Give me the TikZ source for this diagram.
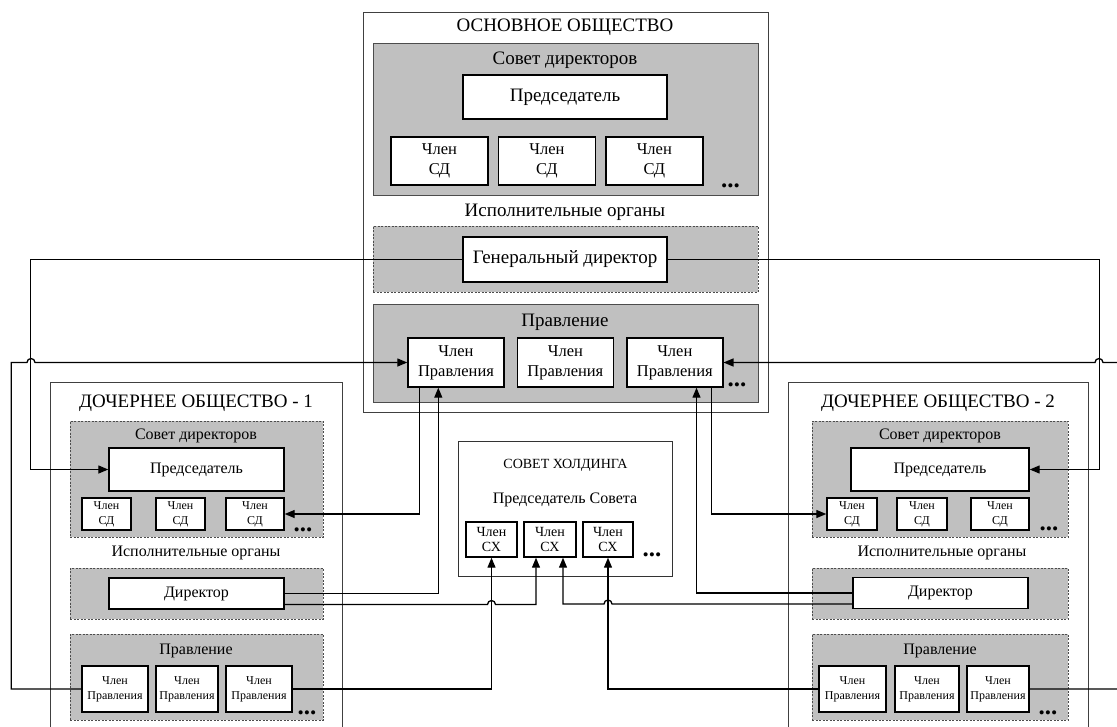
\documentclass[tikz,border=0pt]{standalone}
\usepackage{fontspec}
\setmainfont{Liberation Serif}
\usepackage{xcolor}
\usetikzlibrary{arrows.meta, positioning, calc}
\definecolor{panelgray}{HTML}{C0C0C0}
\tikzset{
    company/.style={rectangle, draw=black!75, line width=0.8pt, fill=white, inner sep=0pt},
    panel/.style={rectangle, draw=black!70, line width=0.8pt, fill=panelgray, inner sep=0pt},
    dpanel/.style={panel, dash pattern=on 2pt off 1.5pt},
    post/.style={rectangle, draw, line width=1.4pt, fill=white, inner sep=0pt, align=center},
    bigpost/.style={post, font=\fontsize{19}{21}\selectfont},
    seat/.style={post, font=\fontsize{16.5}{20}\selectfont},
    smallseat/.style={post, font=\fontsize{12}{15}\selectfont},
    cxseat/.style={post, font=\fontsize{14}{15}\selectfont},
    caption/.style={inner sep=0pt, font=\fontsize{19}{21}\selectfont},
    subcaption/.style={inner sep=0pt, font=\fontsize{16}{18}\selectfont},
    more/.style={inner sep=0pt, font=\bfseries\fontsize{25}{25}\selectfont},
    arrow/.style={-{Triangle[length=10pt,width=8pt]}, line width=1.3pt},
}

\begin{document}
\begin{tikzpicture}[x=1pt, y=-1pt]
    \useasboundingbox (0,0) rectangle (1117,726);
    \clip (0,0) rectangle (1117,726);

    % Main company
    \node[company, minimum width=405pt, minimum height=400pt] (main) at (565.5,212) {};
    \node[caption] (maint) at (565,27) {ОСНОВНОЕ ОБЩЕСТВО};
    \node[panel, minimum width=385pt, minimum height=152pt] (mboard) at (565.5,119) {};
    \node[caption] (mboardt) at (565,60) {Совет директоров};
    \node[bigpost, minimum width=204pt, minimum height=44pt] (mch) at (565,97) {Председатель};
    \node[seat, minimum width=97pt, minimum height=48pt] (ms1) at (439.5,161) {Член\\СД};
    \node[seat, minimum width=97pt, minimum height=48pt, right=9pt of ms1] (ms2) {Член\\СД};
    \node[seat, minimum width=97pt, minimum height=48pt, right=9pt of ms2] (ms3) {Член\\СД};
    \node[more] (msm) at (730.5,186) {...};
    \node[caption] (mexect) at (565,212) {Исполнительные органы};
    \node[dpanel, minimum width=385pt, minimum height=66pt] (mexec) at (565.5,259) {};
    \node[bigpost, minimum width=204pt, minimum height=45pt] (gd) at (565,259.5) {Генеральный директор};
    \node[panel, minimum width=385pt, minimum height=98pt] (mbrd) at (565.5,353) {};
    \node[caption] (mbrdt) at (565,322) {Правление};
    \node[seat, minimum width=96pt, minimum height=49pt] (mp1) at (456,362.5) {Член\\Правления};
    \node[seat, minimum width=96pt, minimum height=49pt, right=12pt of mp1] (mp2) {Член\\Правления};
    \node[seat, minimum width=96pt, minimum height=49pt, right=12pt of mp2] (mp3) {Член\\Правления};
    \node[more] (mpm) at (737,385) {...};

    % Subsidiary 1
    \node[company, minimum width=292pt, minimum height=360pt] (sub1) at (196,562) {};
    \node[caption] (sub1t) at (196,403) {ДОЧЕРНЕЕ ОБЩЕСТВО - 1};
    \node[dpanel, minimum width=253pt, minimum height=116pt] (lboard) at (196.5,479) {};
    \node[subcaption] (lboardt) at (196,436) {Совет директоров};
    \node[post, font=\fontsize{16}{18}\selectfont, minimum width=175pt, minimum height=43pt] (lch) at (196.5,469.5) {Председатель};
    \node[smallseat, minimum width=49pt, minimum height=32pt] (ls1) at (106.5,514) {Член\\СД};
    \node[smallseat, minimum width=49pt, minimum height=32pt] (ls2) at (180.5,514) {Член\\СД};
    \node[smallseat, minimum width=58pt, minimum height=32pt] (ls3) at (255,514) {Член\\СД};
    \node[more] (lsm) at (303,530) {...};
    \node[subcaption] (lexect) at (196,553) {Исполнительные органы};
    \node[dpanel, minimum width=253pt, minimum height=51pt] (lexec) at (196.5,593.5) {};
    \node[post, font=\fontsize{16}{18}\selectfont, minimum width=175pt, minimum height=31pt] (ldir) at (196.5,593.5) {Директор};
    \node[dpanel, minimum width=253pt, minimum height=86pt] (lbrd) at (196.5,677) {};
    \node[subcaption] (lbrdt) at (196,651) {Правление};
    \node[smallseat, minimum width=66pt, minimum height=46pt] (lb1) at (115,689) {Член\\Правления};
    \node[smallseat, minimum width=62pt, minimum height=46pt] (lb2) at (187,689) {Член\\Правления};
    \node[smallseat, minimum width=66pt, minimum height=46pt] (lb3) at (259,689) {Член\\Правления};
    \node[more] (lbm) at (307,713) {...};

    % Subsidiary 2
    \node[company, minimum width=300pt, minimum height=360pt] (sub2) at (938,562) {};
    \node[caption] (sub2t) at (938,403) {ДОЧЕРНЕЕ ОБЩЕСТВО - 2};
    \node[dpanel, minimum width=256pt, minimum height=116pt] (rboard) at (940,479) {};
    \node[subcaption] (rboardt) at (940,436) {Совет директоров};
    \node[post, font=\fontsize{16}{18}\selectfont, minimum width=178pt, minimum height=43pt] (rch) at (940,469.5) {Председатель};
    \node[smallseat, minimum width=50pt, minimum height=32pt] (rs1) at (852,514) {Член\\СД};
    \node[smallseat, minimum width=50pt, minimum height=32pt] (rs2) at (922,514) {Член\\СД};
    \node[smallseat, minimum width=58pt, minimum height=32pt] (rs3) at (1000,514) {Член\\СД};
    \node[more] (rsm) at (1049,529) {...};
    \node[subcaption] (rexect) at (942,553) {Исполнительные органы};
    \node[dpanel, minimum width=256pt, minimum height=51pt] (rexec) at (940,593.5) {};
    \node[post, font=\fontsize{16}{18}\selectfont, minimum width=175pt, minimum height=31pt] (rdir) at (940.5,593) {Директор};
    \node[dpanel, minimum width=256pt, minimum height=86pt] (rbrd) at (940,677) {};
    \node[subcaption] (rbrdt) at (940,651) {Правление};
    \node[smallseat, minimum width=67pt, minimum height=46pt] (rb1) at (852.5,689) {Член\\Правления};
    \node[smallseat, minimum width=64pt, minimum height=46pt] (rb2) at (927,689) {Член\\Правления};
    \node[smallseat, minimum width=62pt, minimum height=46pt] (rb3) at (998,689) {Член\\Правления};
    \node[more] (rbm) at (1048,713) {...};

    % Holding council
    \node[company, draw=black!80, minimum width=214pt, minimum height=135pt] (cx) at (565,508.5) {};
    \node[inner sep=0pt, font=\fontsize{14}{15}\selectfont] (cxt) at (565.5,465) {СОВЕТ ХОЛДИНГА};
    \node[subcaption] (cxch) at (565,500) {Председатель Совета};
    \node[cxseat, minimum width=51pt, minimum height=35pt] (cx1) at (491.5,539.5) {Член\\СХ};
    \node[cxseat, minimum width=52pt, minimum height=35pt] (cx2) at (550,539.5) {Член\\СХ};
    \node[cxseat, minimum width=50pt, minimum height=35pt] (cx3) at (608,539.5) {Член\\СХ};
    \node[more] (cxm) at (652,555) {...};

    % Links
    \draw[arrow] (gd.west) -- ++(-432,0) |- (lch.west);
    \draw[arrow] (gd.east) -- ++(432,0) |- (rch.east);
    \draw[arrow] (lb1.west) -- ++(-70,0) |- (27,362.5) arc[start angle=180, end angle=0, radius=4pt] -- (mp1.west);
    \draw[arrow] (rb3.east) -- ++(100,0) |- (1103,362.5) arc[start angle=0, end angle=180, radius=4pt] -- (mp3.east);
    \draw[arrow] ($(mp1.south west)+(12,0)$) |- (ls3.east);
    \draw[arrow] (ldir.east) -| ($(mp1.south west)+(31,0)$);
    \draw[arrow] ($(mp3.south east)+(-12,0)$) |- (rs1.west);
    \draw[arrow] (rdir.west) -| ($(mp3.south east)+(-27,0)$);
    \draw[arrow] ($(ldir.east)+(0,11)$) -- (487.5,604.5) arc[start angle=180, end angle=0, radius=4pt] -| ($(cx2.south)+(-14,0)$);
    \draw[arrow] (lb3.east) -| (cx1.south);
    \draw[arrow] ($(rdir.west)+(0,11)$) -- (612,604) arc[start angle=0, end angle=180, radius=4pt] -| ($(cx2.south)+(13,0)$);
    \draw[arrow] (rb1.west) -| (cx3.south);
\end{tikzpicture}
\end{document}
